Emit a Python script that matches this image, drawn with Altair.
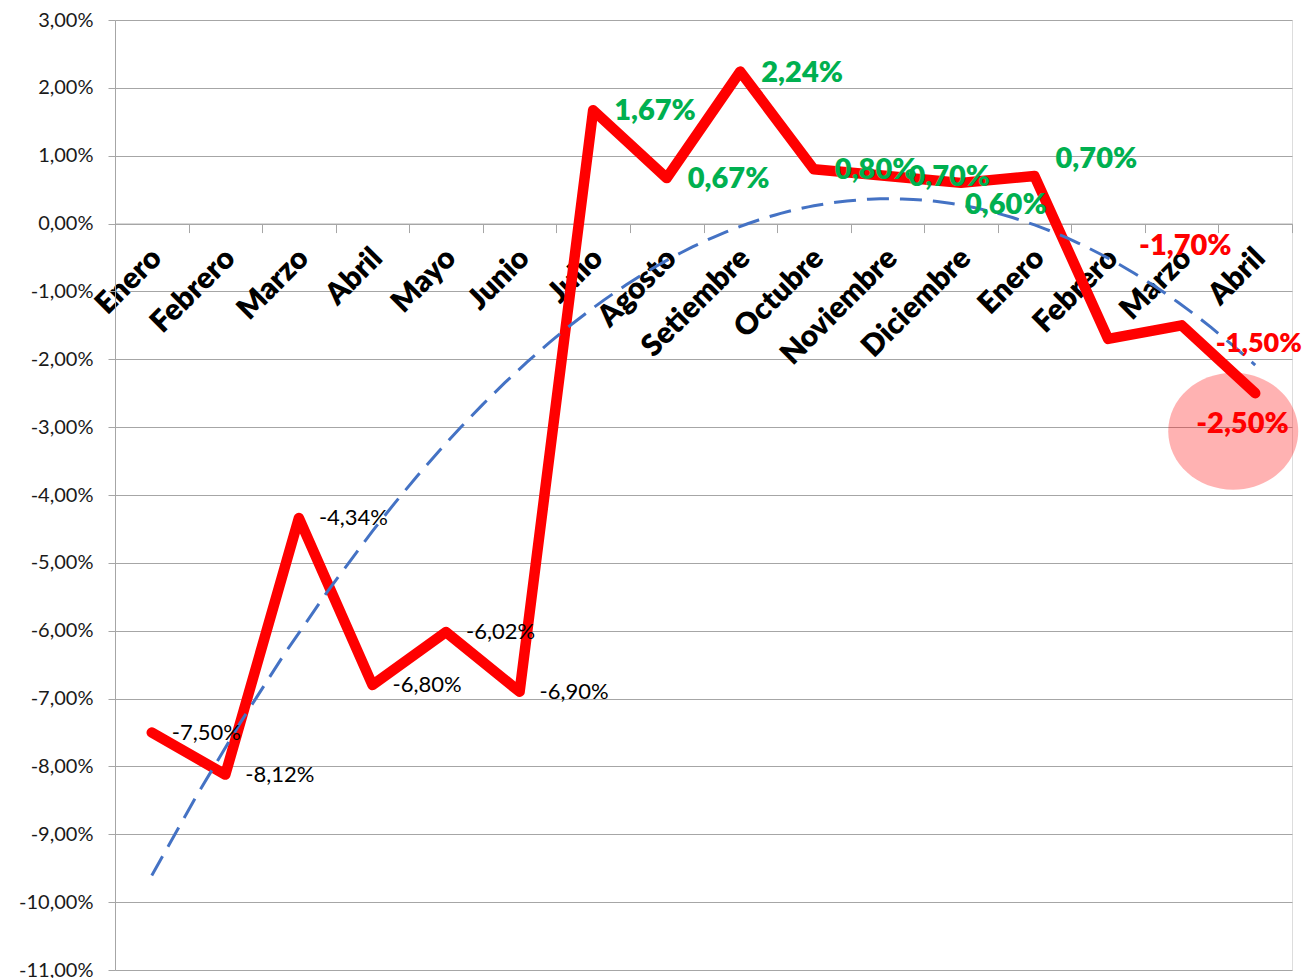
import json
import altair as alt
import pandas as pd

# ---- data ----
months = ["Enero", "Febrero", "Marzo", "Abril", "Mayo", "Junio", "Julio", "Agosto",
          "Setiembre", "Octubre", "Noviembre", "Diciembre", "Enero", "Febrero", "Marzo", "Abril"]
values = [-7.50, -8.12, -4.34, -6.80, -6.02, -6.90, 1.67, 0.67,
          2.24, 0.80, 0.70, 0.60, 0.70, -1.70, -1.50, -2.50]
y_ticks = list(range(-11, 4))

df = pd.DataFrame({"idx": list(range(1, len(values) + 1)), "month": months, "v": values})

W, H = 1177, 950
band = W / len(values)
zero_from_bottom = H * (0 - (-11)) / 14.0

FONT = "Lato"
GRID = "#A6A6A6"
HEAVY = 800

xscale = alt.Scale(domain=[0.5, len(values) + 0.5], nice=False, zero=False)
yscale = alt.Scale(domain=[-11, 3], nice=False, zero=False)

x_label_expr = ("datum.value < %d ? %s[datum.value - 0.5] : ''"
                % (len(values), json.dumps(months, ensure_ascii=False)))
y_label_expr = "replace(replace(format(datum.value, '.2f'), '.', ','), '\u2212', '-') + '%'"

x_axis = alt.Axis(
    values=[i + 0.5 for i in range(len(values) + 1)],
    labelExpr=x_label_expr, title=None, grid=False,
    orient="bottom", offset=-zero_from_bottom,
    domainColor=GRID, tickColor=GRID, tickSize=9,
    labelAngle=-45, labelAlign="right", labelBaseline="top",
    labelPadding=10, labelOffset=band / 2 - 6,
    labelFont=FONT, labelFontWeight=HEAVY, labelFontSize=30, labelColor="#000000",
    labelOverlap=False, labelFlush=False, labelBound=False,
)
y_axis = alt.Axis(
    values=y_ticks, labelExpr=y_label_expr, title=None,
    grid=True, gridColor=GRID, gridWidth=1,
    domainColor=GRID, tickColor=GRID, tickSize=7,
    labelPadding=15, labelFont=FONT, labelFontSize=20, labelColor="#1a1a1a",
    labelOverlap=False,
)

base = alt.Chart(df)
X = alt.X("idx:Q", scale=xscale, axis=x_axis)
Y = alt.Y("v:Q", scale=yscale, axis=y_axis)
Xn = alt.X("idx:Q", scale=xscale)
Yn = alt.Y("v:Q", scale=yscale)

ellipse_path = "M -1 0 A 1 0.9 0 1 0 1 0 A 1 0.9 0 1 0 -1 0 Z"
ellipse = base.transform_filter(alt.datum.idx == 16).mark_point(
    shape=ellipse_path, size=16900, filled=True, fill="#FF0000", opacity=0.3,
    strokeWidth=0, xOffset=-22, yOffset=38,
).encode(x=Xn, y=Yn)

line = base.mark_line(color="#FF0000", strokeWidth=10.5, strokeCap="round",
                      strokeJoin="round").encode(x=X, y=Y)

trend = base.transform_regression("idx", "v", method="poly", order=2).mark_line(
    color="#4472C4", strokeWidth=3, strokeDash=[22, 11]
).encode(x=Xn, y=Yn)

label_calc = "replace(replace(format(datum.v, '.2f'), '.', ','), '\u2212', '-') + '%'"

# label placement groups: (indices, color, weight, size, dx, dy)
groups = [
    ([1, 2, 3, 4, 5, 6], "#000000", "normal", 22, 20, 0),
    ([7, 8, 9, 10, 11], "#00B050", HEAVY, 29, 21, 1),
    ([12], "#00B050", HEAVY, 29, 4, 22),
    ([13], "#00B050", HEAVY, 29, 21, -17),
    ([14], "#FF0000", HEAVY, 29, 31, -93),
    ([15], "#FF0000", HEAVY, 27, 34, 19),
    ([16], "#FF0000", HEAVY, 29, -59, 31),
]
texts = []
for idxs, color, weight, size, dx, dy in groups:
    texts.append(
        base.transform_filter(alt.FieldOneOfPredicate(field="idx", oneOf=idxs))
        .transform_calculate(label=label_calc)
        .mark_text(align="left", baseline="middle", dx=dx, dy=dy, font=FONT,
                   fontWeight=weight, fontSize=size, color=color)
        .encode(x=Xn, y=Yn, text="label:N")
    )

chart = alt.layer(ellipse, line, trend, *texts).properties(
    width=W, height=H,
    autosize=alt.AutoSizeParams(type="none"),
    padding={"left": 107, "top": 12, "right": 14, "bottom": 20},
).configure_view(stroke="transparent").configure(background="white")

chart.save("out.html", embed_options={"renderer": "svg", "actions": False})
